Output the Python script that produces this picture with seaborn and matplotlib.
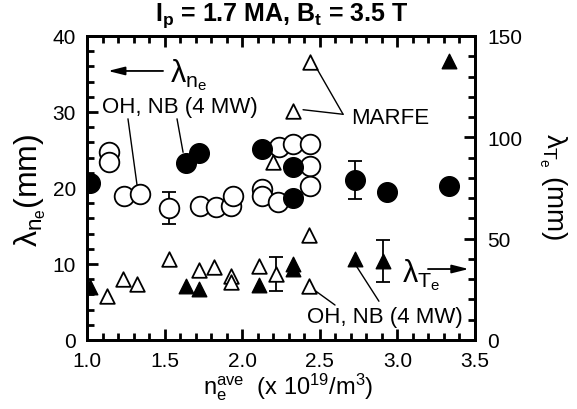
import matplotlib
matplotlib.use("Agg")
import matplotlib.pyplot as plt
from matplotlib.ticker import MultipleLocator
import seaborn as sns
import pandas as pd

# ---- data ----
nb_ne_x = [1.02, 1.64, 1.72, 2.13, 2.33, 2.33, 2.73, 2.93, 3.33]
nb_ne_y = [20.6, 23.3, 24.6, 25.1, 22.7, 18.7, 21.1, 19.5, 20.3]

oh_ne_x = [1.14, 1.14, 1.24, 1.34, 1.53, 1.73, 1.83, 1.93, 1.94, 2.13, 2.13,
           2.23, 2.24, 2.33, 2.44, 2.44, 2.44]
oh_ne_y = [24.7, 23.4, 19.0, 19.2, 17.4, 17.6, 17.5, 17.6, 18.9, 19.9, 19.0,
           18.2, 25.4, 25.8, 25.8, 22.9, 20.2]

nb_te_x = [1.02, 1.64, 1.72, 2.11, 2.33, 2.33, 2.73, 2.91, 3.33]
nb_te_y = [26.0, 26.6, 25.0, 27.0, 37.5, 35.0, 40.0, 39.0, 137.6]

oh_te_x = [1.13, 1.23, 1.32, 1.53, 1.72, 1.82, 1.93, 1.93, 2.11, 2.20, 2.22,
           2.33, 2.43, 2.43, 2.44]
oh_te_y = [21.7, 30.0, 27.6, 40.0, 34.5, 36.0, 31.6, 28.6, 36.5, 88.0, 32.5,
           113.0, 52.0, 26.6, 137.0]

# error bars (x, centre, half-width)
err_oh_ne = (1.53, 17.4, 2.1)
err_nb_ne = (2.73, 21.1, 2.5)
err_oh_te = (2.22, 32.5, 8.5)
err_nb_te = (2.91, 39.0, 10.3)

xticks = [1.0, 1.5, 2.0, 2.5, 3.0, 3.5]
xticklabels = ["1.0", "1.5", "2.0", "2.5", "3.0", "3.5"]
yticks_left = [0, 10, 20, 30, 40]
yticks_right = [0, 50, 100, 150]

# ---- style ----
sns.set_style("ticks")
plt.rcParams["font.family"] = ["Liberation Sans", "DejaVu Sans"]
plt.rcParams["mathtext.fontset"] = "custom"
plt.rcParams["mathtext.rm"] = "Liberation Sans"
plt.rcParams["mathtext.it"] = "Liberation Sans"
plt.rcParams["mathtext.bf"] = "Liberation Sans:bold"
plt.rcParams["axes.axisbelow"] = False
for k in ["xtick.color", "ytick.color", "axes.edgecolor", "text.color",
          "axes.labelcolor"]:
    plt.rcParams[k] = "black"

fig = plt.figure(figsize=(5.77, 4.10), dpi=100, facecolor="white")
ax = fig.add_axes([87/577, 1-341/410, (475-87)/577, (341-37)/410])
ax2 = ax.twinx()

msz_c = 200
msz_t = 110

df_oh_ne = pd.DataFrame({"x": oh_ne_x, "y": oh_ne_y})
df_nb_ne = pd.DataFrame({"x": nb_ne_x, "y": nb_ne_y})
df_oh_te = pd.DataFrame({"x": oh_te_x, "y": oh_te_y})
df_nb_te = pd.DataFrame({"x": nb_te_x, "y": nb_te_y})

for (x0, y0, e) in [err_oh_ne, err_nb_ne]:
    ax.errorbar([x0], [y0], yerr=[e], fmt="none", ecolor="k", elinewidth=1.3,
                capsize=5, capthick=1.3, zorder=1)
for (x0, y0, e) in [err_oh_te, err_nb_te]:
    ax2.errorbar([x0], [y0], yerr=[e], fmt="none", ecolor="k", elinewidth=1.3,
                 capsize=5, capthick=1.3, zorder=1)

sns.scatterplot(data=df_oh_ne, x="x", y="y", ax=ax, marker="o", s=msz_c,
                facecolor="white", edgecolor="k", linewidth=1.3, zorder=3)
sns.scatterplot(data=df_nb_ne, x="x", y="y", ax=ax, marker="o", s=msz_c,
                color="k", edgecolor="k", linewidth=1.0, zorder=4)
sns.scatterplot(data=df_oh_te, x="x", y="y", ax=ax2, marker="^", s=msz_t,
                facecolor="white", edgecolor="k", linewidth=1.3, zorder=3)
sns.scatterplot(data=df_nb_te, x="x", y="y", ax=ax2, marker="^", s=msz_t,
                color="k", edgecolor="k", linewidth=1.0, zorder=4)

ax.set_xlim(1.0, 3.5)
ax.set_ylim(0, 40)
ax2.set_ylim(0, 150)
ax.set_xticks(xticks)
ax.set_xticklabels(xticklabels)
ax.set_yticks(yticks_left)
ax2.set_yticks(yticks_right)
ax.xaxis.set_minor_locator(MultipleLocator(0.1))
ax.yaxis.set_minor_locator(MultipleLocator(2))
ax2.yaxis.set_minor_locator(MultipleLocator(10))
ax.set_xlabel("")
ax.set_ylabel("")
ax2.set_ylabel("")

for a in (ax, ax2):
    for sp in a.spines.values():
        sp.set_linewidth(2.0)
        sp.set_visible(True)
        sp.set_color("k")

ax.xaxis.set_tick_params(which="major", direction="in", top=True, bottom=True,
                         length=8, width=2, color="k", labelsize=15, pad=8)
ax.xaxis.set_tick_params(which="minor", direction="in", top=True, bottom=True,
                         length=5, width=2, color="k")
ax.yaxis.set_tick_params(which="major", direction="in", left=True, right=False,
                         length=8, width=2, color="k", labelsize=15, pad=8)
ax.yaxis.set_tick_params(which="minor", direction="in", left=True, right=False,
                         length=5, width=2, color="k")
ax2.yaxis.set_tick_params(which="major", direction="in", right=True, left=False,
                          length=8, width=2, color="k", labelsize=15, pad=9)
ax2.yaxis.set_tick_params(which="minor", direction="in", right=True, left=False,
                          length=5, width=2, color="k")

# labels
fig.text(0.489, 0.962, r"$\mathbf{I_p}$ = 1.7 MA, $\mathbf{B_t}$ = 3.5 T",
         ha="center", va="center", fontsize=18, fontweight="bold")
fig.text(0.50, 0.055, r"n$_e^{ave}$  (x 10$^{19}$/m$^3$)", ha="center",
         va="center", fontsize=17)
fig.text(0.053, 0.537, r"$\lambda_{n_e}$(mm)", rotation=90, ha="center",
         va="center", fontsize=23)
fig.text(0.958, 0.544, r"$\lambda_{T_e}$ (mm)", rotation=270, ha="center",
         va="center", fontsize=20)

# annotations (left axis data coords)
arr = dict(arrowstyle="-|>,head_length=1.0,head_width=0.25", color="k",
           lw=1.3, shrinkA=0, shrinkB=0)
ax.annotate("", xy=(1.135, 35.4), xytext=(1.49, 35.4), arrowprops=arr)
ax.text(1.535, 35.0, r"$\lambda_{n_e}$", fontsize=22, ha="left", va="center")
ax.text(1.095, 30.7, "OH, NB (4 MW)", fontsize=16, ha="left", va="center")
ax.plot([1.264, 1.329], [29.1, 19.4], color="k", lw=1.0)
ax.plot([1.58, 1.619], [29.1, 24.7], color="k", lw=1.0)
ax.text(2.70, 29.3, "MARFE", fontsize=16, ha="left", va="center")
ax.plot([2.65, 2.456], [29.7, 36.6], color="k", lw=1.0)
ax.plot([2.65, 2.392], [29.7, 30.3], color="k", lw=1.0)
ax.text(3.03, 8.6, r"$\lambda_{T_e}$", fontsize=22, ha="left", va="center")
ax.annotate("", xy=(3.46, 9.34), xytext=(3.197, 9.34), arrowprops=arr)
ax.text(2.415, 3.1, "OH, NB (4 MW)", fontsize=16, ha="left", va="center")
ax.plot([2.881, 2.727], [5.1, 10.0], color="k", lw=1.0)
ax.plot([2.598, 2.456], [4.6, 6.7], color="k", lw=1.0)

fig.savefig("out.png", dpi=100, facecolor="white")
